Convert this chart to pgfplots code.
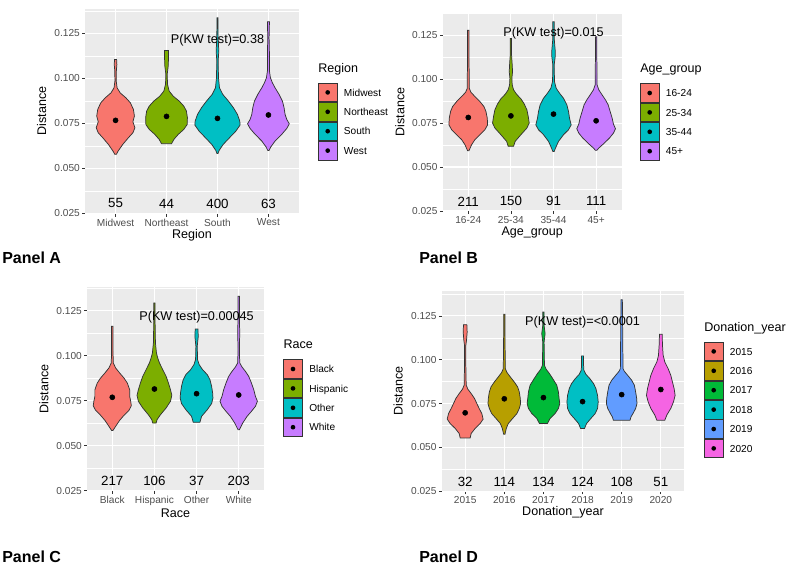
\documentclass[border=0pt]{standalone}
\usepackage{fontspec}
\setmainfont{Liberation Sans}
\usepackage{pgfplots}
\pgfplotsset{compat=1.18}
\usepackage{pgfplotstable}

\definecolor{ggbg}{HTML}{EBEBEB}
\definecolor{ggline}{HTML}{333333}
\definecolor{ggtext}{HTML}{4D4D4D}
\definecolor{c4a}{HTML}{F8766D}
\definecolor{c4b}{HTML}{7CAE00}
\definecolor{c4c}{HTML}{00BFC4}
\definecolor{c4d}{HTML}{C77CFF}
\definecolor{c6a}{HTML}{F8766D}
\definecolor{c6b}{HTML}{B79F00}
\definecolor{c6c}{HTML}{00BA38}
\definecolor{c6d}{HTML}{00BFC4}
\definecolor{c6e}{HTML}{619CFF}
\definecolor{c6f}{HTML}{F564E3}

\newcommand{\tickfont}{\fontsize{7.6}{9}\selectfont}
\newcommand{\labfont}{\fontsize{9.4}{11}\selectfont}
\newcommand{\cntfont}{\fontsize{10}{12}\selectfont}
\newcommand{\legfont}{\fontsize{7.6}{9}\selectfont}
\newcommand{\ptfont}{\fontsize{9.5}{11}\selectfont}
\newcommand{\panfont}{\fontsize{12}{14}\selectfont\bfseries}

% ---------- Panel A: Region ----------
\pgfplotstableread{
v w
0.1106 0.020
0.1078 0.026
0.1041 0.015
0.0985 0.013
0.0948 0.030
0.0920 0.090
0.0893 0.200
0.0865 0.290
0.0828 0.350
0.0791 0.370
0.0759 0.340
0.0726 0.380
0.0698 0.340
0.0670 0.250
0.0633 0.140
0.0596 0.050
0.0578 0.015
}\Aa
\pgfplotstableread{
v w
0.1156 0.039
0.1115 0.039
0.1069 0.033
0.1022 0.013
0.0967 0.020
0.0930 0.052
0.0902 0.130
0.0874 0.250
0.0846 0.340
0.0819 0.390
0.0782 0.410
0.0744 0.405
0.0717 0.340
0.0689 0.230
0.0661 0.144
0.0637 0.098
}\Ab
\pgfplotstableread{
v w
0.1337 0.010
0.1226 0.013
0.1152 0.026
0.1096 0.013
0.1004 0.020
0.0948 0.039
0.0911 0.105
0.0874 0.216
0.0837 0.314
0.0800 0.392
0.0763 0.438
0.0741 0.444
0.0707 0.360
0.0670 0.235
0.0633 0.111
0.0600 0.033
0.0583 0.010
}\Ac
\pgfplotstableread{
v w
0.1315 0.020
0.1226 0.013
0.1133 0.020
0.1041 0.020
0.1004 0.039
0.0976 0.078
0.0948 0.130
0.0911 0.210
0.0874 0.275
0.0837 0.307
0.0800 0.327
0.0772 0.360
0.0748 0.410
0.0722 0.360
0.0689 0.260
0.0652 0.130
0.0619 0.046
0.0600 0.013
}\Ad
% ---------- Panel B: Age group ----------
\pgfplotstableread{
v w
0.1278 0.016
0.1137 0.016
0.1005 0.023
0.0948 0.023
0.0925 0.063
0.0901 0.156
0.0872 0.274
0.0844 0.368
0.0816 0.415
0.0778 0.446
0.0740 0.454
0.0712 0.390
0.0684 0.274
0.0656 0.156
0.0627 0.078
0.0593 0.016
}\Ba
\pgfplotstableread{
v w
0.1231 0.016
0.1137 0.016
0.1080 0.031
0.1042 0.039
0.1005 0.023
0.0967 0.031
0.0939 0.063
0.0914 0.133
0.0888 0.235
0.0859 0.313
0.0825 0.376
0.0788 0.407
0.0750 0.430
0.0722 0.376
0.0684 0.235
0.0646 0.100
0.0618 0.063
}\Bb
\pgfplotstableread{
v w
0.1326 0.016
0.1231 0.016
0.1165 0.039
0.1127 0.039
0.1080 0.016
0.0986 0.023
0.0948 0.063
0.0920 0.141
0.0891 0.235
0.0854 0.313
0.0816 0.352
0.0778 0.376
0.0740 0.415
0.0712 0.352
0.0684 0.235
0.0646 0.117
0.0608 0.047
0.0589 0.016
}\Bc
\pgfplotstableread{
v w
0.1241 0.016
0.1137 0.016
0.0967 0.023
0.0939 0.063
0.0910 0.141
0.0882 0.219
0.0854 0.282
0.0816 0.329
0.0778 0.376
0.0744 0.407
0.0718 0.454
0.0693 0.407
0.0665 0.313
0.0637 0.196
0.0608 0.063
0.0595 0.016
}\Bd
% ---------- Panel C: Race ----------
\pgfplotstableread{
v w
0.1163 0.016
0.1034 0.016
0.0960 0.024
0.0932 0.079
0.0904 0.175
0.0876 0.278
0.0848 0.357
0.0811 0.413
0.0774 0.413
0.0747 0.437
0.0722 0.452
0.0697 0.397
0.0669 0.278
0.0641 0.175
0.0613 0.095
0.0585 0.016
}\Ca
\pgfplotstableread{
v w
0.1293 0.016
0.1182 0.016
0.1071 0.024
0.1015 0.048
0.0987 0.079
0.0960 0.119
0.0922 0.198
0.0885 0.278
0.0848 0.333
0.0811 0.381
0.0780 0.413
0.0747 0.381
0.0710 0.278
0.0672 0.143
0.0645 0.063
0.0626 0.040
}\Cb
\pgfplotstableread{
v w
0.1148 0.032
0.1108 0.040
0.1052 0.016
0.0978 0.024
0.0950 0.063
0.0922 0.143
0.0895 0.254
0.0867 0.317
0.0830 0.357
0.0793 0.381
0.0765 0.389
0.0734 0.357
0.0700 0.254
0.0663 0.119
0.0630 0.079
}\Cc
\pgfplotstableread{
v w
0.1330 0.016
0.1219 0.016
0.1126 0.024
0.1034 0.016
0.0960 0.024
0.0937 0.079
0.0913 0.159
0.0885 0.238
0.0848 0.302
0.0811 0.357
0.0774 0.397
0.0747 0.444
0.0719 0.397
0.0691 0.302
0.0663 0.198
0.0626 0.095
0.0589 0.016
}\Cd
% ---------- Panel D: Donation year ----------
\pgfplotstableread{
v w
0.1200 0.043
0.1158 0.051
0.1111 0.034
0.1082 0.017
0.0968 0.017
0.0855 0.026
0.0832 0.068
0.0807 0.153
0.0779 0.238
0.0750 0.298
0.0722 0.357
0.0693 0.425
0.0661 0.459
0.0636 0.383
0.0608 0.255
0.0579 0.153
0.0554 0.128
}\Da
\pgfplotstableread{
v w
0.1259 0.017
0.1139 0.017
0.0949 0.026
0.0927 0.068
0.0902 0.153
0.0873 0.255
0.0845 0.340
0.0816 0.383
0.0779 0.408
0.0750 0.417
0.0722 0.383
0.0693 0.323
0.0665 0.213
0.0636 0.102
0.0608 0.051
0.0575 0.017
}\Db
\pgfplotstableread{
v w
0.1272 0.017
0.1196 0.017
0.1149 0.043
0.1101 0.017
0.0968 0.026
0.0946 0.068
0.0921 0.153
0.0892 0.238
0.0855 0.340
0.0816 0.383
0.0779 0.400
0.0750 0.417
0.0722 0.383
0.0693 0.298
0.0665 0.170
0.0636 0.102
}\Dc
\pgfplotstableread{
v w
0.1022 0.026
0.0968 0.026
0.0940 0.034
0.0917 0.085
0.0892 0.187
0.0864 0.281
0.0836 0.340
0.0797 0.383
0.0759 0.400
0.0722 0.383
0.0693 0.323
0.0665 0.213
0.0636 0.102
0.0608 0.051
}\Dd
\pgfplotstableread{
v w
0.1343 0.017
0.1139 0.026
0.0949 0.034
0.0934 0.068
0.0911 0.153
0.0883 0.255
0.0855 0.323
0.0816 0.357
0.0779 0.383
0.0750 0.391
0.0722 0.357
0.0693 0.289
0.0674 0.238
0.0655 0.213
}\De
\pgfplotstableread{
v w
0.1145 0.034
0.1082 0.043
0.1025 0.060
0.0987 0.102
0.0949 0.187
0.0911 0.255
0.0873 0.298
0.0835 0.340
0.0797 0.366
0.0759 0.323
0.0722 0.255
0.0684 0.153
0.0655 0.102
}\Df

% violin: right side top->bottom (+w), then left side bottom->top (-w)
\newcommand{\violin}[3]{%
  \pgfplotstablesort[sort key=v, sort cmp=float >]{\vdown}{#2}%
  \pgfplotstablesort[sort key=v, sort cmp=float <]{\vup}{#2}%
  \pgfplotstablegetrowsof{#2}\edef\vn{\pgfplotsretval}%
  \pgfplotstablevertcat{\vdown}{\vup}%
  \addplot[fill=#3, draw=ggline, line width=0.55pt, forget plot]
    table[x expr={#1+(\coordindex<\vn ? 1 : -1)*\thisrow{w}}, y=v] {\vdown} -- cycle;
}

\newcommand{\gglegend}[4]{%
  \node[anchor=base west, font=\labfont, inner sep=0pt] at (#1, #2-10.5) {#3};
  \foreach \c/\l [count=\i from 0] in {#4} {
    \path[fill=\c, draw=ggline, line width=0.6pt] (#1+0.4, #2+\i*19.4+0.4) rectangle (#1+19.0, #2+\i*19.4+19.0);
    \fill[black] (#1+9.7, #2+\i*19.4+9.7) circle (1.75pt);
    \node[anchor=base west, inner sep=0pt, font=\legfont] at (#1+25.7, #2+\i*19.4+9.7+3.7) {\l};
  }
}

\pgfplotsset{gg/.style={
  scale only axis, anchor=south west,
  axis background/.style={fill=ggbg},
  axis line style={draw=none},
  enlargelimits=false,
  xmin=0.4,
  grid=both,
  major grid style={white, line width=0.85pt},
  minor grid style={white, line width=0.4pt},
  tick align=outside, tick pos=left,
  major tick length=2.1pt, minor tick length=0pt,
  major tick style={ggline, line width=0.5pt},
  ytick={0.025,0.05,0.075,0.1,0.125},
  yticklabels={0.025,0.050,0.075,0.100,0.125},
  minor ytick={0.0375,0.0625,0.0875,0.1125,0.1375},
  tick label style={font=\tickfont, text=ggtext},
  yticklabel style={anchor=east, inner sep=0pt, xshift=-1.6pt},
  xticklabel style={anchor=north, inner sep=0pt, yshift=-1.6pt},
  every axis y label/.style={rotate=90, anchor=center, font=\labfont},
  every axis x label/.style={anchor=center, font=\labfont},
}}

\begin{document}
\begin{tikzpicture}
\path[use as bounding box] (0,0) rectangle (597pt,-423.75pt);

% ---------------- Panel A ----------------
\begin{axis}[gg, at={(63.75pt,-160.275pt)}, width=160.5pt, height=153.9pt,
  xmax=4.6, ymin=0.0248, ymax=0.1389,
  xtick={1,2,3,4}, xticklabels={Midwest,Northeast,South,West},
  xlabel={Region}, ylabel={Distance},
  x label style={at={(axis description cs:0.5,-0.105)}},
  y label style={at={(axis description cs:-0.2023,0.5)}}]
\violin{1}{\Aa}{c4a}
\violin{2}{\Ab}{c4b}
\violin{3}{\Ac}{c4c}
\violin{4}{\Ad}{c4d}
\addplot[only marks, mark=*, mark size=1.9pt, black, forget plot] coordinates {(1,0.0767) (2,0.0789) (3,0.0778) (4,0.0797)};
\node[font=\cntfont] at (axis cs:1,0.0305) {55};
\node[font=\cntfont] at (axis cs:2,0.0305) {44};
\node[font=\cntfont] at (axis cs:3,0.0305) {400};
\node[font=\cntfont] at (axis cs:4,0.0305) {63};
\node[font=\ptfont] at (axis cs:3,0.1212) {P(KW test)=0.38};
\end{axis}

% ---------------- Panel B ----------------
\begin{axis}[gg, at={(332.025pt,-158.4pt)}, width=134.25pt, height=148.8pt,
  xmax=4.6, ymin=0.0249, ymax=0.1377,
  xtick={1,2,3,4}, xticklabels={16-24,25-34,35-44,45+},
  xlabel={Age\_group}, ylabel={Distance},
  x label style={at={(axis description cs:0.5,-0.106)}},
  y label style={at={(axis description cs:-0.2385,0.5)}}]
\violin{1}{\Ba}{c4a}
\violin{2}{\Bb}{c4b}
\violin{3}{\Bc}{c4c}
\violin{4}{\Bd}{c4d}
\addplot[only marks, mark=*, mark size=1.9pt, black, forget plot] coordinates {(1,0.0782) (2,0.0791) (3,0.0801) (4,0.0763)};
\node[font=\cntfont] at (axis cs:1,0.0305) {211};
\node[font=\cntfont] at (axis cs:2,0.0305) {150};
\node[font=\cntfont] at (axis cs:3,0.0305) {91};
\node[font=\cntfont] at (axis cs:4,0.0305) {111};
\node[font=\ptfont] at (axis cs:3,0.1260) {P(KW test)=0.015};
\end{axis}

% ---------------- Panel C ----------------
\begin{axis}[gg, at={(65.25pt,-368.25pt)}, width=132.75pt, height=153pt,
  xmax=4.6, ymin=0.02485, ymax=0.13815,
  xtick={1,2,3,4}, xticklabels={Black,Hispanic,Other,White},
  xlabel={Race}, ylabel={Distance},
  x label style={at={(axis description cs:0.5,-0.109)}},
  y label style={at={(axis description cs:-0.243,0.5)}}]
\violin{1}{\Ca}{c4a}
\violin{2}{\Cb}{c4b}
\violin{3}{\Cc}{c4c}
\violin{4}{\Cd}{c4d}
\addplot[only marks, mark=*, mark size=1.9pt, black, forget plot] coordinates {(1,0.0769) (2,0.0815) (3,0.0789) (4,0.0782)};
\node[font=\cntfont] at (axis cs:1,0.0305) {217};
\node[font=\cntfont] at (axis cs:2,0.0305) {106};
\node[font=\cntfont] at (axis cs:3,0.0305) {37};
\node[font=\cntfont] at (axis cs:4,0.0305) {203};
\node[font=\ptfont] at (axis cs:3,0.1213) {P(KW test)=0.00045};
\end{axis}

% ---------------- Panel D ----------------
\begin{axis}[gg, at={(331.275pt,-368.625pt)}, width=181.95pt, height=150.75pt,
  xmax=6.6, ymin=0.0248, ymax=0.1395,
  xtick={1,2,3,4,5,6}, xticklabels={2015,2016,2017,2018,2019,2020},
  xlabel={Donation\_year}, ylabel={Distance},
  x label style={at={(axis description cs:0.5,-0.1035)}},
  y label style={at={(axis description cs:-0.180,0.5)}}]
\violin{1}{\Da}{c6a}
\violin{2}{\Db}{c6b}
\violin{3}{\Dc}{c6c}
\violin{4}{\Dd}{c6d}
\violin{5}{\De}{c6e}
\violin{6}{\Df}{c6f}
\addplot[only marks, mark=*, mark size=1.9pt, black, forget plot] coordinates {(1,0.0697) (2,0.0777) (3,0.0784) (4,0.0761) (5,0.0801) (6,0.0830)};
\node[font=\cntfont] at (axis cs:1,0.0305) {32};
\node[font=\cntfont] at (axis cs:2,0.0305) {114};
\node[font=\cntfont] at (axis cs:3,0.0305) {134};
\node[font=\cntfont] at (axis cs:4,0.0305) {124};
\node[font=\cntfont] at (axis cs:5,0.0305) {108};
\node[font=\cntfont] at (axis cs:6,0.0305) {51};
\node[font=\ptfont] at (axis cs:4,0.1213) {P(KW test)=<0.0001};
\end{axis}

% ---------------- legends and panel labels (pixel units) ----------------
\begin{scope}[x=0.75pt, y=-0.75pt]
\gglegend{318}{82.7}{Region}{c4a/Midwest, c4b/Northeast, c4c/South, c4d/West}
\gglegend{640}{83.3}{Age\_group}{c4a/16-24, c4b/25-34, c4c/35-44, c4d/45+}
\gglegend{283.3}{359.3}{Race}{c4a/Black, c4b/Hispanic, c4c/Other, c4d/White}
\gglegend{704}{341.7}{Donation\_year}{c6a/2015, c6b/2016, c6c/2017, c6d/2018, c6e/2019, c6f/2020}
\node[anchor=base west, font=\panfont, inner sep=0pt] at (2,263) {Panel A};
\node[anchor=base west, font=\panfont, inner sep=0pt] at (419,263) {Panel B};
\node[anchor=base west, font=\panfont, inner sep=0pt] at (2,562.5) {Panel C};
\node[anchor=base west, font=\panfont, inner sep=0pt] at (419,562.5) {Panel D};
\end{scope}
\end{tikzpicture}
\end{document}
